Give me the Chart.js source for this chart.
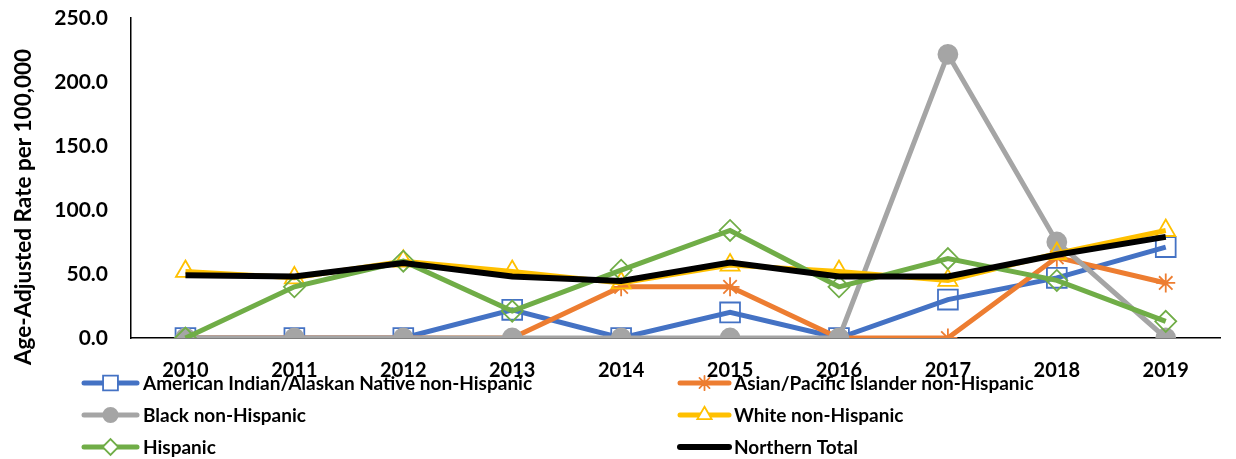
<!DOCTYPE html>
<html>
<head>
<meta charset="utf-8">
<script src="https://cdn.jsdelivr.net/npm/chart.js@4/dist/chart.umd.min.js"></script>
<style>
  html,body{margin:0;padding:0;background:#fff;}
  #wrap{width:1236px;height:459px;position:relative;}
</style>
</head>
<body>
<div id="wrap"><canvas id="chart"></canvas></div>
<script>
// data
const years = ["2010","2011","2012","2013","2014","2015","2016","2017","2018","2019"];
const aian     = [0, 0, 0, 22, 0, 20, 0, 30, 47, 71];
const api      = [0, 0, 0, 0, 40, 40, 0, 0, 63, 43];
const black    = [0, 0, 0, 0, 0, 0, 0, 221.6, 75, 0];
const white    = [52, 47, 60, 52, 43, 57, 52, 45, 66, 84];
const hispanic = [0, 40, 60, 21, 53, 84, 40, 62, 45, 13];
const northern = [49, 48, 58.5, 48, 44.5, 59, 48, 48, 65, 79];
const yTicks = [0, 50, 100, 150, 200, 250];
const yTitle = "Age-Adjusted Rate per 100,000";

const FONT = "Lato";

function series(label, data, color, style, radius, fill, order, width){
  return {
    label, data, order,
    borderColor: color, backgroundColor: fill || "rgba(0,0,0,0)",
    borderWidth: width || 5, tension: 0,
    pointStyle: style || false, pointRadius: style ? radius : 0,
    pointBorderColor: color, pointBackgroundColor: fill || "rgba(0,0,0,0)",
    pointBorderWidth: 1.8
  };
}

const datasets = [
  series("American Indian/Alaskan Native non-Hispanic", aian, "#4472C4", "rect", 14, null, 6),
  series("Asian/Pacific Islander non-Hispanic", api, "#ED7D31", "star", 9.5, null, 5),
  series("Black non-Hispanic", black, "#A5A5A5", "circle", 9.5, "#A5A5A5", 4),
  series("White non-Hispanic", white, "#FFC000", "triangle", 11, null, 3),
  series("Hispanic", hispanic, "#70AD47", "rectRot", 10.5, null, 2),
  series("Northern Total", northern, "#000000", false, 0, null, 1, 6)
];

/* ====== custom legend (two columns) + y title ====== */
const extras = {
  id: "extras",
  afterDraw(chart){
    const ctx = chart.ctx;
    ctx.save();
    // y axis title
    ctx.font = `bold 22.5px ${FONT}`;
    ctx.fillStyle = "#000";
    ctx.textAlign = "center"; ctx.textBaseline = "middle";
    ctx.translate(24, 207); ctx.rotate(-Math.PI/2);
    ctx.fillText(yTitle, 0, 0);
    ctx.restore();

    // legend
    const cols = [{x0:84, x1:137, tx:143}, {x0:680, x1:729, tx:734}];
    const rows = [383, 415, 447];
    ctx.save();
    ctx.font = `bold 19px ${FONT}`;
    ctx.textAlign = "left"; ctx.textBaseline = "middle";
    chart.data.datasets.forEach((ds, i) => {
      const c = cols[i % 2], y = rows[Math.floor(i / 2)];
      ctx.strokeStyle = ds.borderColor; ctx.lineWidth = ds.borderWidth;
      ctx.lineCap = "round";
      ctx.beginPath(); ctx.moveTo(c.x0, y); ctx.lineTo(c.x1, y); ctx.stroke();
      if (ds.pointStyle){
        const r = ds.pointRadius * 0.75;
        ctx.lineWidth = ds.pointBorderWidth;
        ctx.fillStyle = ds.pointBackgroundColor === "rgba(0,0,0,0)" ? "#fff" : ds.pointBackgroundColor;
        ctx.strokeStyle = ds.pointBorderColor;
        Chart.helpers.drawPoint(ctx, {pointStyle: ds.pointStyle, radius: r, borderWidth: ds.pointBorderWidth, rotation: 0}, (c.x0 + c.x1) / 2, y);
      }
      ctx.fillStyle = "#000";
      ctx.fillText(ds.label, c.tx, y + 1);
    });
    ctx.restore();
  }
};

new Chart(document.getElementById("chart"), {
  type: "line",
  data: { labels: years, datasets },
  options: {
    responsive: true, maintainAspectRatio: false, animation: false,
    layout: { padding: { top: 18, right: 0, bottom: 0, left: 0 } },
    plugins: { legend: { display: false }, tooltip: { enabled: false } },
    scales: {
      x: {
        offset: true,
        grid: { display: false, drawTicks: false },
        border: { display: true, color: "#000", width: 1.5 },
        ticks: { color: "#000", font: { family: FONT, size: 20, weight: "bold" }, padding: 21, maxRotation: 0 },
        afterFit: s => { s.height = 121; s.paddingLeft = 0; s.paddingRight = 0; }
      },
      y: {
        min: 0, max: 250,
        afterBuildTicks: s => { s.ticks = yTicks.map(v => ({ value: v })); },
        grid: { display: false, drawTicks: false },
        border: { display: true, color: "#000", width: 1.5 },
        ticks: { color: "#000", font: { family: FONT, size: 21, weight: "bold" }, padding: 23,
                 callback: v => Number(v).toFixed(1) },
        afterFit: s => { s.width = 131; s.paddingTop = 0; s.paddingBottom = 0; }
      }
    }
  },
  plugins: [extras]
});
</script>
</body>
</html>
